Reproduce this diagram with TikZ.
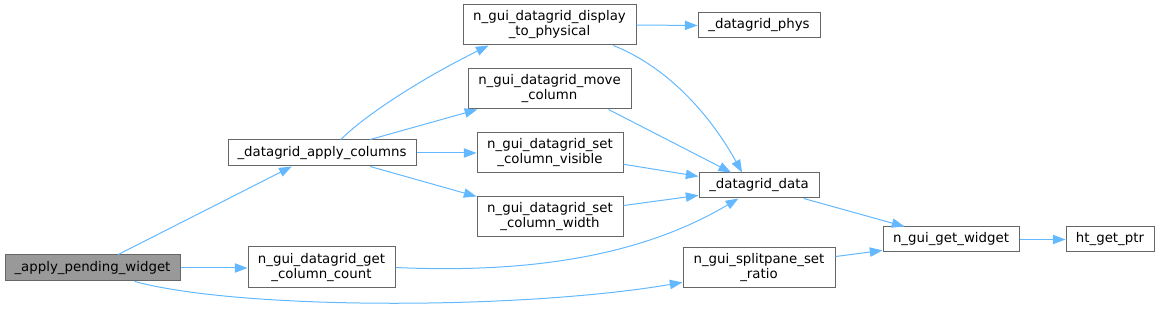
\documentclass[tikz,border=0pt]{standalone}
\usepackage{fontspec}
\setmainfont{DejaVu Sans}
\usetikzlibrary{arrows.meta,calc}
\definecolor{edgec}{HTML}{63B8FF}
\definecolor{borderc}{HTML}{666666}
\definecolor{rootc}{HTML}{999999}
\tikzset{
  box/.style={draw=borderc, line width=0.75pt, fill=white, inner sep=0pt, align=center,
    font=\fontsize{10}{11.25}\selectfont, text=black, anchor=center},
  rootbox/.style={box, fill=rootc},
  edge/.style={draw=edgec, line width=0.75pt, -{Triangle[length=9.5pt,width=7pt]}},
}
\newcommand\dnode[7]{%
  \pgfmathsetmacro\cxx{(#3+#5)/2}\pgfmathsetmacro\cyy{(#4+#6)/2}%
  \pgfmathsetmacro\ww{(#5-#3)*0.75}\pgfmathsetmacro\hh{(#6-#4)*0.75}%
  \node[#2, minimum width=\ww pt, minimum height=\hh pt] (#1) at (\cxx,\cyy) {#7};}
\begin{document}
\begin{tikzpicture}[x=0.75pt,y=-0.75pt]
\useasboundingbox (0,0) rectangle (1160,313);
\dnode{apw}{rootbox}{5}{255}{180}{281}{\_apply\_pending\_widget}
\dnode{dac}{box}{228}{140}{416}{166}{\_datagrid\_apply\_columns}
\dnode{gcc}{box}{248}{247}{395}{288}{n\_gui\_datagrid\_get\\\_column\_count}
\dnode{d2p}{box}{463}{5}{636}{45}{n\_gui\_datagrid\_display\\\_to\_physical}
\dnode{mc}{box}{468}{69}{631}{109}{n\_gui\_datagrid\_move\\\_column}
\dnode{scv}{box}{477}{133}{623}{173}{n\_gui\_datagrid\_set\\\_column\_visible}
\dnode{scw}{box}{477}{197}{623}{237}{n\_gui\_datagrid\_set\\\_column\_width}
\dnode{phys}{box}{698}{13}{820}{38}{\_datagrid\_phys}
\dnode{dd}{box}{699}{173}{819}{198}{\_datagrid\_data}
\dnode{ssr}{box}{683}{248}{835}{288}{n\_gui\_splitpane\_set\\\_ratio}
\dnode{gw}{box}{883}{227}{1019}{252}{n\_gui\_get\_widget}
\dnode{htp}{box}{1066}{227}{1154}{252}{ht\_get\_ptr}

\draw[edge] ($(apw.north west)!0.646!(apw.north east)$) -- ($(dac.south west)!0.34!(dac.south east)$);
\draw[edge] (apw.east) -- (gcc.west |- apw.east);
\draw[edge] ($(apw.south west)!0.74!(apw.south east)$) .. controls (240,310) and (520,310) .. ($(ssr.north west)!0.85!(ssr.south west)$);
\draw[edge] ($(dac.north west)!0.6!(dac.north east)$) .. controls (362,118) and (415,82) .. ($(d2p.south west)!0.15!(d2p.south east)$);
\draw[edge] ($(dac.north west)!0.755!(dac.north east)$) -- ($(mc.south west)!0.06!(mc.south east)$);
\draw[edge] (dac.east) -- (scv.west);
\draw[edge] ($(dac.south west)!0.755!(dac.south east)$) -- (scw.north west);
\draw[edge] (d2p.east) -- (phys.west);
\draw[edge] ($(d2p.south west)!0.867!(d2p.south east)$) .. controls (670,68) and (712,118) .. ($(dd.north west)!0.36!(dd.north east)$);
\draw[edge] ($(mc.south west)!0.86!(mc.south east)$) -- ($(dd.north west)!0.27!(dd.north east)$);
\draw[edge] ($(scv.north east)!0.775!(scv.south east)$) -- ($(dd.north west)!0.15!(dd.south west)$);
\draw[edge] ($(scw.north east)!0.22!(scw.south east)$) -- ($(dd.north west)!0.88!(dd.south west)$);
\draw[edge] (gcc.east) .. controls (560,275) and (660,245) .. ($(dd.south west)!0.33!(dd.south east)$);
\draw[edge] ($(dd.south west)!0.87!(dd.south east)$) -- ($(gw.north west)!0.16!(gw.north east)$);
\draw[edge] ($(ssr.north east)!0.22!(ssr.south east)$) -- ($(gw.north west)!0.92!(gw.south west)$);
\draw[edge] (gw.east) -- (htp.west);
\end{tikzpicture}
\end{document}
